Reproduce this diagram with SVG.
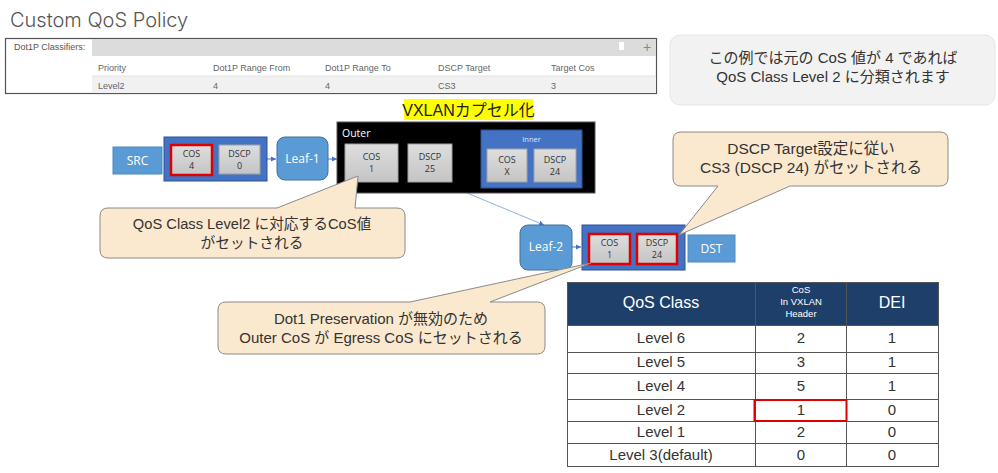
<svg xmlns="http://www.w3.org/2000/svg" width="998" height="473" viewBox="0 0 998 473">
<defs>
<marker id="ah" markerWidth="6" markerHeight="6" refX="5" refY="3" orient="auto" markerUnits="userSpaceOnUse">
<path d="M0,0.5 L5,3 L0,5.5 Z" fill="#4472c4"/>
</marker>
<linearGradient id="gb" x1="0" y1="0" x2="0" y2="1">
<stop offset="0" stop-color="#dedede"/>
<stop offset="1" stop-color="#c4c4c4"/>
</linearGradient>
</defs>
<style>
.jp{font-family:"Liberation Sans","Noto Sans CJK JP",sans-serif}
.cal{font-family:"Open Sans","Liberation Sans",sans-serif}
.ui{font-family:"Liberation Sans","Noto Sans",sans-serif}
.pk{fill:url(#gb);stroke:#a0a0a0;stroke-width:1}
.pkt{font-family:"Open Sans","Liberation Sans",sans-serif;font-size:9px;fill:#333;text-anchor:middle}
.blue{fill:#5b9bd5;stroke:#41719c;stroke-width:1}
.wt{font-family:"Open Sans","Liberation Sans",sans-serif;font-size:12px;fill:#fff;text-anchor:middle}
.red{fill:none;stroke:#e00000;stroke-width:2.5}
.call{fill:#fbe9cf;stroke:#8a8a8a;stroke-width:1}
.ct{font-family:"Liberation Sans","Noto Sans CJK JP",sans-serif;font-size:15px;fill:#333;text-anchor:middle}
.cls{font-family:"Liberation Sans",sans-serif;font-size:9px;fill:#666}
.tb{font-family:"Liberation Sans","Noto Sans",sans-serif;font-size:15px;fill:#333;text-anchor:middle}
.th{font-family:"Liberation Sans","Noto Sans",sans-serif;font-size:16px;fill:#fff;text-anchor:middle}
.conn{stroke:#4472c4;stroke-width:1;fill:none}
</style>

<g id="title">
<text x="10" y="27" font-family="Inter,'Open Sans','Liberation Sans',sans-serif" font-size="20" font-weight="300" fill="#555">Custom QoS Policy</text>
</g>

<g id="classifier">
<rect x="5.5" y="38.5" width="651" height="55" fill="#fff" stroke="#555" stroke-width="1.2"/>
<rect x="92" y="39" width="564" height="17" fill="#dcdcdc"/>
<rect x="92" y="76" width="564" height="17" fill="#f1f1f1"/>
<line x1="92" y1="76" x2="656" y2="76" stroke="#e4e4e4"/>
<text x="14" y="50" class="cls" style="fill:#555">Dot1P Classifiers:</text>
<text x="98" y="71" class="cls">Priority</text>
<text x="213" y="71" class="cls">Dot1P Range From</text>
<text x="325" y="71" class="cls">Dot1P Range To</text>
<text x="438" y="71" class="cls">DSCP Target</text>
<text x="551" y="71" class="cls">Target Cos</text>
<text x="98" y="89" class="cls">Level2</text>
<text x="213" y="89" class="cls">4</text>
<text x="325" y="89" class="cls">4</text>
<text x="438" y="89" class="cls">CS3</text>
<text x="551" y="89" class="cls">3</text>
<rect x="619" y="42" width="5" height="8" fill="#fff"/>
<text x="647" y="52" class="ui" font-size="14" fill="#888" text-anchor="middle">+</text>
</g>

<g id="note">
<rect x="670" y="35" width="325" height="70" rx="10" fill="#f2f2f2" stroke="#e6e6e6"/>
<text x="833" y="63" class="jp" font-size="15" fill="#333" text-anchor="middle">この例では元の CoS 値が 4 であれば</text>
<text x="833" y="82" class="jp" font-size="15" fill="#333" text-anchor="middle">QoS Class Level 2 に分類されます</text>
</g>

<g id="vxlan-label">
<rect x="404" y="99" width="129" height="21" fill="#ffff00"/>
<text x="468.5" y="116" class="jp" font-size="16" fill="#222" text-anchor="middle">VXLANカプセル化</text>
</g>

<g id="connectors">
<line x1="267" y1="159" x2="276" y2="159" class="conn" marker-end="url(#ah)"/>
<line x1="328" y1="159" x2="337" y2="159" class="conn" marker-end="url(#ah)"/>
<line x1="467" y1="193" x2="544" y2="225" stroke="#8fb0e0" stroke-width="1" marker-end="url(#ah)"/>
<line x1="572" y1="247" x2="581" y2="247" class="conn" marker-end="url(#ah)"/>
</g>

<g id="src">
<rect x="113" y="147" width="49" height="27" fill="#5b9bd5" stroke="#4a8ac4"/>
<text x="137.5" y="165" class="wt">SRC</text>
</g>

<g id="packet-in">
<rect x="164" y="137" width="103" height="44" fill="#4472c4" stroke="#2f528f"/>
<rect x="171" y="145" width="41" height="30" class="pk"/>
<text x="191.5" y="157" class="pkt">COS</text>
<text x="191.5" y="169" class="pkt">4</text>
<rect x="171" y="145" width="41" height="30" class="red"/>
<rect x="219" y="145" width="41" height="29" class="pk"/>
<text x="239.5" y="157" class="pkt">DSCP</text>
<text x="239.5" y="169" class="pkt">0</text>
</g>

<g id="leaf1">
<rect x="277" y="137" width="51" height="43" rx="8" class="blue"/>
<text x="302.5" y="163" class="wt">Leaf-1</text>
</g>

<g id="outer">
<rect x="337" y="122" width="258" height="71" fill="#000" stroke="#555"/>
<text x="342" y="137" class="cal" font-size="10.5" fill="#fff">Outer</text>
<rect x="345" y="144" width="53" height="38" class="pk"/>
<text x="371.5" y="160" class="pkt">COS</text>
<text x="371.5" y="172" class="pkt">1</text>
<rect x="408" y="144" width="44" height="38" class="pk"/>
<text x="430" y="160" class="pkt">DSCP</text>
<text x="430" y="172" class="pkt">25</text>
<g id="inner">
<rect x="481" y="130" width="101" height="58" fill="#4472c4" stroke="#2f528f"/>
<text x="531.5" y="142" class="cal" font-size="7.5" fill="#dfe8f7" text-anchor="middle">Inner</text>
<rect x="487" y="149" width="40" height="33" class="pk"/>
<text x="507" y="163" class="pkt">COS</text>
<text x="507" y="175" class="pkt">X</text>
<rect x="534" y="149" width="42" height="33" class="pk"/>
<text x="555" y="163" class="pkt">DSCP</text>
<text x="555" y="175" class="pkt">24</text>
</g>
</g>

<g id="leaf2">
<rect x="520" y="225" width="52" height="45" rx="8" class="blue"/>
<text x="546" y="251" class="wt">Leaf-2</text>
</g>

<g id="packet-out">
<rect x="582" y="225" width="103" height="45" fill="#4472c4" stroke="#2f528f"/>
<rect x="589" y="234" width="41" height="30" class="pk"/>
<text x="609.5" y="246" class="pkt">COS</text>
<text x="609.5" y="258" class="pkt">1</text>
<rect x="589" y="234" width="41" height="30" class="red"/>
<rect x="637" y="234" width="40" height="30" class="pk"/>
<text x="657" y="246" class="pkt">DSCP</text>
<text x="657" y="258" class="pkt">24</text>
<rect x="637" y="234" width="40" height="30" class="red"/>
</g>

<g id="dst">
<rect x="688" y="235" width="47" height="27" fill="#5b9bd5" stroke="#4a8ac4"/>
<text x="711.5" y="253" class="wt">DST</text>
</g>

<g id="callout-dscp">
<path class="call" d="M681,132 H940 Q948,132 948,140 V178 Q948,186 940,186 H790 L679,235 L718,186 H681 Q673,186 673,178 V140 Q673,132 681,132 Z"/>
<text x="811" y="154" class="ct" style="font-size:15.5px">DSCP Target設定に従い</text>
<text x="811" y="173" class="ct" style="font-size:15.5px">CS3 (DSCP 24) がセットされる</text>
</g>

<g id="callout-cos">
<path class="call" d="M108,208 H277 L358,176 L355,208 H397 Q405,208 405,216 V250 Q405,258 397,258 H108 Q100,258 100,250 V216 Q100,208 108,208 Z"/>
<text x="252" y="229" class="ct" style="font-size:14.7px">QoS Class Level2 に対応するCoS値</text>
<text x="252" y="248" class="ct" style="font-size:14.7px">がセットされる</text>
</g>

<g id="callout-dot1">
<path class="call" d="M226,302 H410 L591,263 L490,302 H537 Q545,302 545,310 V346 Q545,354 537,354 H226 Q218,354 218,346 V310 Q218,302 226,302 Z"/>
<text x="381" y="324" class="ct">Dot1 Preservation が無効のため</text>
<text x="381" y="343" class="ct">Outer CoS が Egress CoS にセットされる</text>
</g>

<g id="qos-table">
<rect x="567.5" y="282.5" width="371" height="184" fill="#fff" stroke="#555"/>
<rect x="568" y="283" width="370" height="42" fill="#1f3f6b"/>
<g stroke="#555" stroke-width="1">
<line x1="567" y1="325.5" x2="939" y2="325.5"/>
<line x1="567" y1="352.5" x2="939" y2="352.5"/>
<line x1="567" y1="373.5" x2="939" y2="373.5"/>
<line x1="567" y1="399.5" x2="939" y2="399.5"/>
<line x1="567" y1="421.5" x2="939" y2="421.5"/>
<line x1="567" y1="443.5" x2="939" y2="443.5"/>
<line x1="755.5" y1="282" x2="755.5" y2="467"/>
<line x1="846.5" y1="282" x2="846.5" y2="467"/>
</g>
<text x="661" y="308" class="th">QoS Class</text>
<text x="801" y="293" class="ui" font-size="9.5" fill="#fff" text-anchor="middle">CoS</text>
<text x="801" y="305" class="ui" font-size="9.5" fill="#fff" text-anchor="middle">In VXLAN</text>
<text x="801" y="317" class="ui" font-size="9.5" fill="#fff" text-anchor="middle">Header</text>
<text x="892" y="308" class="th">DEI</text>
<text x="661" y="343" class="tb">Level 6</text><text x="801" y="343" class="tb">2</text><text x="892" y="343" class="tb">1</text>
<text x="661" y="367" class="tb">Level 5</text><text x="801" y="367" class="tb">3</text><text x="892" y="367" class="tb">1</text>
<text x="661" y="391" class="tb">Level 4</text><text x="801" y="391" class="tb">5</text><text x="892" y="391" class="tb">1</text>
<text x="661" y="415" class="tb">Level 2</text><text x="801" y="415" class="tb">1</text><text x="892" y="415" class="tb">0</text>
<text x="661" y="437" class="tb">Level 1</text><text x="801" y="437" class="tb">2</text><text x="892" y="437" class="tb">0</text>
<text x="661" y="460" class="tb">Level 3(default)</text><text x="801" y="460" class="tb">0</text><text x="892" y="460" class="tb">0</text>
<rect x="754.5" y="400" width="92" height="21" fill="none" stroke="#e00000" stroke-width="2"/>
</g>
</svg>
